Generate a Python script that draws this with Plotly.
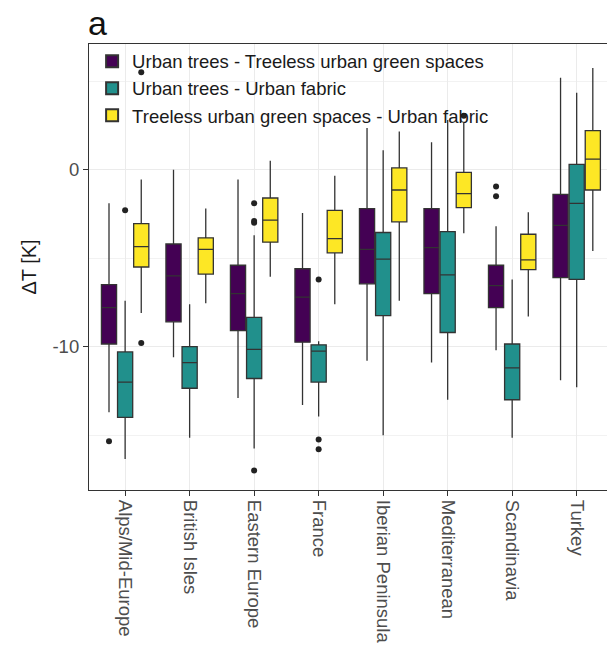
import plotly.graph_objects as go

regions = ["Alps/Mid-Europe", "British Isles", "Eastern Europe", "France",
           "Iberian Peninsula", "Mediterranean", "Scandinavia", "Turkey"]

# Urban trees - Treeless urban green spaces
tg_low = [-13.7, -10.6, -12.9, -13.3, -10.8, -10.9, -10.2, -11.9]
tg_q1 = [-9.85, -8.6, -9.1, -9.75, -6.45, -7.0, -7.8, -6.1]
tg_med = [-7.8, -6.0, -7.0, -7.2, -4.5, -4.4, -6.55, -3.15]
tg_q3 = [-6.5, -4.2, -5.4, -5.6, -2.2, -2.2, -5.4, -1.4]
tg_high = [-1.9, 0.0, -0.55, -2.45, 2.35, 1.55, -3.2, 5.2]
tg_out = [[-15.35], [], [], [], [], [], [-0.95, -1.5], []]

# Urban trees - Urban fabric
tf_low = [-16.35, -15.15, -15.75, -13.95, -15.0, -13.0, -15.15, -12.3]
tf_q1 = [-14.0, -12.35, -11.8, -12.0, -8.25, -9.2, -13.0, -6.2]
tf_med = [-12.0, -10.9, -10.15, -10.25, -5.05, -5.95, -11.2, -1.9]
tf_q3 = [-10.3, -10.0, -8.35, -9.9, -3.55, -3.5, -9.85, 0.3]
tf_high = [-7.4, -7.6, -3.7, -9.7, 1.1, 2.8, -6.2, 4.35]
tf_out = [[-2.3], [], [-1.9, -2.9, -3.0, -17.0], [-6.2, -15.25, -15.8], [], [], [], []]

# Treeless urban green spaces - Urban fabric
gf_low = [-8.1, -7.55, -6.05, -7.6, -7.4, -3.6, -8.3, -4.6]
gf_q1 = [-5.5, -5.9, -4.1, -4.7, -2.95, -2.15, -5.65, -1.15]
gf_med = [-4.35, -4.5, -2.85, -3.9, -1.15, -1.35, -5.1, 0.6]
gf_q3 = [-3.05, -3.85, -1.6, -2.3, 0.1, -0.15, -3.65, 2.2]
gf_high = [-0.55, -2.2, 0.5, -0.35, 2.15, 2.65, -2.4, 5.75]
gf_out = [[5.5, -9.8], [], [], [], [], [3.05], [], []]

series = [
    ("Urban trees - Treeless urban green spaces", "#440154",
     tg_low, tg_q1, tg_med, tg_q3, tg_high, tg_out),
    ("Urban trees - Urban fabric", "#21908C",
     tf_low, tf_q1, tf_med, tf_q3, tf_high, tf_out),
    ("Treeless urban green spaces - Urban fabric", "#FDE725",
     gf_low, gf_q1, gf_med, gf_q3, gf_high, gf_out),
]

fig = go.Figure()
for name, color, low, q1, med, q3, high, out in series:
    fig.add_trace(go.Box(
        name=name,
        x=regions,
        y=out,
        q1=q1, median=med, q3=q3,
        lowerfence=low, upperfence=high,
        boxpoints="outliers",
        pointpos=0, jitter=0,
        fillcolor=color,
        line=dict(color="#333333", width=1.3),
        marker=dict(color="#222222", size=6, line=dict(width=0)),
        whiskerwidth=0,
        hoverinfo="skip",
    ))

fig.update_layout(
    width=607, height=651,
    margin=dict(l=89, r=0, t=44, b=161),
    paper_bgcolor="white",
    plot_bgcolor="white",
    boxmode="group",
    boxgap=0.25,
    boxgroupgap=0.06,
    font=dict(family="Liberation Sans, Arial, sans-serif", color="#1a1a1a"),
    legend=dict(
        x=0.006, y=1.003, xanchor="left", yanchor="top",
        bgcolor="rgba(0,0,0,0)",
        font=dict(size=18.5, color="#1a1a1a"),
        tracegroupgap=0,
        itemsizing="constant",
    ),
    showlegend=True,
)

fig.update_xaxes(
    type="category",
    categoryorder="array", categoryarray=regions,
    range=[-0.56, 7.47],
    tickangle=90,
    tickfont=dict(size=18.5, color="#4d4d4d"),
    ticks="outside", ticklen=5, tickcolor="#333333",
    showgrid=True, gridcolor="#ebebeb", gridwidth=1,
    showline=True, linecolor="#333333", linewidth=1.2, mirror=True,
    zeroline=False,
)

fig.update_yaxes(
    range=[-18.1, 7.1],
    tickvals=[0, -10],
    ticktext=["0", "-10"],
    tickfont=dict(size=18.5, color="#4d4d4d"),
    ticks="outside", ticklen=5, tickcolor="#333333",
    showgrid=True, gridcolor="#ebebeb", gridwidth=1.1,
    minor=dict(tickvals=[5, -5, -15], showgrid=True,
               gridcolor="#f2f2f2", gridwidth=0.6, ticks=""),
    showline=True, linecolor="#333333", linewidth=1.2,
    zeroline=False,
    title=dict(text="ΔT [K]", font=dict(size=20, color="#1a1a1a"), standoff=10),
)

fig.add_annotation(
    text="a", xref="paper", yref="paper", x=-0.005, y=1.0,
    xanchor="left", yanchor="bottom", yshift=0,
    showarrow=False, font=dict(size=34, color="#111111"),
)

fig.write_html("out.html")
